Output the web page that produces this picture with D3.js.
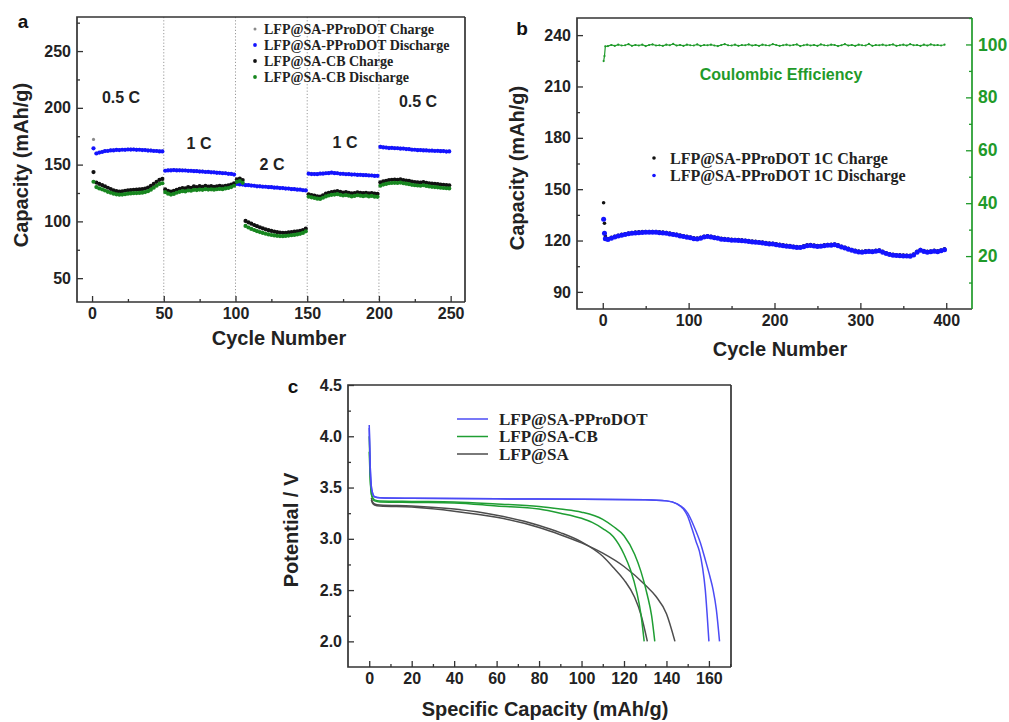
<!DOCTYPE html>
<html>
<head>
<meta charset="utf-8">
<script src="https://cdn.jsdelivr.net/npm/d3@7"></script>
<style>
  body { margin: 0; background: #fff; }
  svg { display: block; }
</style>
</head>
<body>
<svg id="fig" width="1009" height="722"></svg>
<script>
// ---------------- Panel a: rate capability (every second cycle) ----------------
const cyclesA = d3.range(1, 250, 2);
const rateLabels = ["0.5 C", "1 C", "2 C", "1 C", "0.5 C"];
const rateBounds = [50, 100, 150, 200];

const pprodotCharge = [
  172.2, 160.2, 160.9, 161.6, 162.2, 162.5, 162.8, 163.0, 163.2, 163.3, 163.4, 163.5, 163.6, 163.7, 163.6, 163.5, 163.4, 163.3, 163.1, 162.9, 162.7, 162.5, 162.3, 162.1, 161.9,
  145.0, 145.2, 145.4, 145.5, 145.4, 145.3, 145.3, 145.1, 145.0, 144.8, 144.7, 144.5, 144.4, 144.2, 144.0, 143.9, 143.7, 143.5, 143.3, 143.1, 142.9, 142.7, 142.4, 142.1, 141.6,
  133.4, 133.0, 132.7, 132.4, 132.2, 132.0, 131.7, 131.4, 131.2, 131.0, 130.8, 130.6, 130.4, 130.2, 130.0, 129.8, 129.6, 129.4, 129.2, 128.9, 128.7, 128.4, 128.2, 127.9, 127.6,
  142.4, 142.2, 142.0, 142.1, 142.3, 142.5, 142.7, 143.0, 143.2, 143.0, 142.7, 142.4, 142.2, 142.0, 141.9, 141.7, 141.6, 141.4, 141.3, 141.2, 141.0, 140.9, 140.7, 140.5, 140.4,
  166.0, 165.6, 165.3, 165.1, 165.0, 164.9, 164.7, 164.5, 164.4, 164.2, 163.9, 163.6, 163.4, 163.2, 163.1, 163.0, 162.8, 162.7, 162.6, 162.5, 162.4, 162.3, 162.2, 162.0, 161.9
];
const pprodotDischarge = [
  164.3, 159.8, 160.6, 161.1, 161.9, 162.0, 162.5, 162.5, 162.9, 162.8, 163.1, 163.0, 163.3, 163.2, 163.3, 163.0, 163.1, 162.8, 162.8, 162.4, 162.4, 162.0, 162.0, 161.6, 161.6,
  144.6, 144.9, 144.9, 145.2, 144.9, 145.0, 144.8, 144.8, 144.5, 144.5, 144.2, 144.2, 143.9, 143.9, 143.5, 143.6, 143.2, 143.2, 142.8, 142.8, 142.4, 142.4, 141.9, 141.8, 141.2,
  133.0, 132.5, 132.4, 131.9, 131.9, 131.5, 131.4, 130.9, 130.9, 130.5, 130.5, 130.1, 130.1, 129.7, 129.7, 129.3, 129.3, 128.9, 128.9, 128.4, 128.4, 127.9, 127.9, 127.4, 127.3,
  142.0, 141.7, 141.7, 141.6, 142.0, 142.0, 142.4, 142.5, 142.9, 142.5, 142.4, 141.9, 141.9, 141.5, 141.6, 141.2, 141.3, 140.9, 141.0, 140.7, 140.7, 140.4, 140.4, 140.0, 140.1,
  165.6, 165.1, 165.0, 164.6, 164.7, 164.4, 164.4, 164.0, 164.1, 163.7, 163.6, 163.1, 163.1, 162.7, 162.8, 162.5, 162.5, 162.2, 162.3, 162.0, 162.1, 161.8, 161.9, 161.5, 161.6
];
const cbCharge = [
  143.4, 134.2, 133.0, 132.0, 130.8, 129.6, 128.5, 127.4, 126.6, 126.2, 126.5, 127.0, 127.3, 127.6, 127.8, 127.9, 128.2, 128.4, 128.9, 129.8, 131.2, 133.0, 134.8, 136.6, 137.4,
  128.2, 127.0, 126.2, 126.8, 127.8, 128.6, 129.4, 129.0, 130.2, 129.6, 130.8, 130.2, 131.0, 130.4, 131.2, 130.6, 131.0, 130.4, 130.8, 131.2, 130.8, 131.4, 131.8, 132.4, 133.6,
  137.0, 137.6, 136.4, 100.4, 99.2, 98.0, 96.8, 95.8, 94.8, 93.9, 93.0, 92.3, 91.6, 91.0, 90.5, 90.1, 89.9, 90.0, 90.3, 90.6, 90.9, 91.2, 91.6, 92.4, 93.6,
  123.8, 123.2, 122.6, 122.0, 121.8, 123.0, 124.4, 125.2, 125.8, 126.2, 126.6, 126.0, 125.4, 125.8, 125.2, 124.6, 125.0, 125.6, 125.2, 124.8, 125.2, 124.6, 125.0, 124.4, 124.2,
  134.4, 135.2, 135.8, 136.4, 136.6, 136.8, 136.6, 137.0, 136.4, 136.0, 135.6, 135.0, 134.6, 134.4, 134.2, 134.6, 134.0, 133.6, 133.2, 133.0, 132.8, 132.4, 132.2, 132.0, 131.8
];
const cbDischarge = [
  134.9, 130.2, 129.0, 128.2, 127.2, 126.0, 125.2, 124.4, 123.8, 123.5, 123.6, 124.0, 124.4, 124.6, 124.8, 124.9, 125.1, 125.3, 125.8, 126.6, 127.9, 129.6, 131.4, 133.0, 133.6,
  125.8, 124.4, 123.6, 124.2, 125.2, 126.0, 126.6, 126.4, 127.2, 127.0, 127.8, 127.6, 128.0, 127.8, 128.4, 128.0, 128.2, 127.9, 128.3, 128.6, 128.4, 129.0, 129.4, 130.2, 131.4,
  134.8, 135.4, 134.0, 96.0, 94.6, 93.4, 92.4, 91.4, 90.6, 89.8, 89.1, 88.5, 88.0, 87.6, 87.3, 87.1, 87.0, 87.2, 87.5, 87.8, 88.1, 88.5, 89.0, 89.8, 91.2,
  121.8, 121.2, 120.6, 120.0, 119.8, 120.8, 122.0, 122.8, 123.4, 123.6, 124.0, 123.4, 122.8, 123.2, 122.6, 122.0, 122.4, 123.0, 122.6, 122.2, 122.6, 122.0, 122.4, 121.8, 121.6,
  131.4, 132.4, 133.0, 133.6, 133.8, 134.0, 133.8, 134.2, 133.6, 133.2, 132.8, 132.2, 131.8, 131.6, 131.4, 131.8, 131.2, 130.8, 130.4, 130.2, 130.0, 129.6, 129.4, 129.2, 129.0
];
const legendA = ["LFP@SA-PProDOT Charge", "LFP@SA-PProDOT Discharge", "LFP@SA-CB Charge", "LFP@SA-CB Discharge"];

// ---------------- Panel b: 1C cycling (first three cycles, then every fourth) ----------------
const cyclesB = [1, 2, 3].concat(d3.range(6, 399, 4));
const longCharge = [
  142.1, 130.1, 122.6,
  121.1, 121.9, 122.5, 123.1, 123.6, 124.0, 124.4, 124.7, 124.9, 125.1,
  125.2, 125.3, 125.3, 125.3, 125.3, 125.1, 124.9, 124.7, 124.3, 124.0,
  123.7, 123.2, 122.8, 122.4, 122.1, 121.6, 121.4, 121.9, 122.5, 122.8,
  122.5, 122.1, 121.8, 121.3, 121.1, 120.9, 120.7, 120.6, 120.5, 120.4,
  120.2, 120.0, 119.7, 119.5, 119.3, 119.1, 118.8, 118.5, 118.4, 118.1,
  117.8, 117.5, 117.2, 117.0, 116.7, 116.5, 116.4, 116.9, 117.5, 117.6,
  117.3, 117.0, 117.1, 117.5, 117.7, 117.8, 118.0, 117.5, 116.7, 116.1,
  115.4, 114.8, 114.3, 113.8, 113.7, 114.0, 114.1, 113.9, 114.3, 114.5,
  113.7, 112.9, 112.3, 111.9, 111.7, 111.6, 111.5, 111.4, 111.3, 112.1,
  113.7, 114.8, 114.1, 113.7, 113.9, 114.3, 114.0, 114.5, 115.1
];
const longDischarge = [
  132.4, 124.2, 121.0,
  120.6, 121.4, 122.0, 122.6, 123.1, 123.5, 123.9, 124.2, 124.4, 124.6,
  124.7, 124.8, 124.8, 124.8, 124.8, 124.6, 124.4, 124.2, 123.8, 123.5,
  123.2, 122.7, 122.3, 121.9, 121.6, 121.1, 120.9, 121.4, 122.0, 122.3,
  122.0, 121.6, 121.3, 120.8, 120.6, 120.4, 120.2, 120.1, 120.0, 119.9,
  119.7, 119.5, 119.2, 119.0, 118.8, 118.6, 118.3, 118.0, 117.9, 117.6,
  117.3, 117.0, 116.7, 116.5, 116.2, 116.0, 115.9, 116.4, 117.0, 117.1,
  116.8, 116.5, 116.6, 117.0, 117.2, 117.3, 117.5, 117.0, 116.2, 115.6,
  114.9, 114.3, 113.8, 113.3, 113.2, 113.5, 113.6, 113.4, 113.8, 114.0,
  113.2, 112.4, 111.8, 111.4, 111.2, 111.1, 111.0, 110.9, 110.8, 111.6,
  113.2, 114.3, 113.6, 113.2, 113.4, 113.8, 113.5, 114.0, 114.6
];
const coulombicEff = [
  93.7, 95.6, 99.3,
  99.4, 99.8, 99.5, 99.9, 99.6, 99.7, 100.1, 99.5, 99.8, 99.6,
  99.9, 99.4, 99.8, 100.0, 99.6, 99.7, 99.5, 99.9, 99.7, 100.2,
  99.6, 99.8, 99.5, 99.9, 99.7, 99.6, 100.0, 99.5, 99.8, 99.7,
  99.9, 99.6, 99.4, 99.8, 100.1, 99.7, 99.6, 99.9, 99.5, 99.8,
  99.7, 100.0, 99.6, 99.8, 99.5, 99.9, 99.7, 99.6, 100.1, 99.8,
  99.5, 99.7, 99.9, 99.6, 99.8, 100.0, 99.4, 99.7, 99.9, 99.6,
  99.8, 99.5, 100.0, 99.7, 99.6, 99.9, 99.8, 99.4, 99.7, 100.1,
  99.6, 99.8, 99.5, 99.9, 99.7, 99.6, 100.2, 99.5, 99.8, 99.7,
  99.9, 99.6, 99.8, 100.0, 99.5, 99.7, 99.9, 99.6, 100.1, 99.7,
  99.8, 99.5, 99.9, 99.6, 100.0, 99.7, 99.8, 99.6, 99.9
];
const legendB = ["LFP@SA-PProDOT 1C Charge", "LFP@SA-PProDOT 1C Discharge"];

// ---------------- Panel c: discharge profiles (two cells per electrode) ----------------
const profileNames = ["LFP@SA-PProDOT", "LFP@SA-CB", "LFP@SA"];
const pprodotCap1 = [0, 0.4, 1.2, 2.5, 5, 20, 60, 100, 130, 140, 145, 148, 150, 152, 154, 155.5, 157, 158.3, 159.2, 160];
const pprodotV1   = [4.11, 3.75, 3.48, 3.41, 3.40, 3.395, 3.39, 3.385, 3.38, 3.37, 3.34, 3.29, 3.22, 3.10, 2.97, 2.88, 2.72, 2.50, 2.25, 2.00];
const pprodotCap2 = [0, 0.4, 1.2, 2.5, 5, 20, 60, 100, 130, 140, 145, 148, 150, 153, 156, 158.5, 160.5, 162, 163.5, 165];
const pprodotV2   = [4.08, 3.75, 3.48, 3.41, 3.40, 3.395, 3.39, 3.385, 3.38, 3.37, 3.34, 3.30, 3.25, 3.12, 2.96, 2.78, 2.63, 2.50, 2.31, 2.00];
const cbCap1 = [0, 0.4, 1.2, 2.5, 5, 20, 40, 60, 80, 90, 100, 105, 110, 115, 120, 123, 126, 128, 129.5];
const cbV1   = [4.00, 3.65, 3.42, 3.37, 3.36, 3.355, 3.35, 3.32, 3.29, 3.25, 3.20, 3.16, 3.10, 3.02, 2.85, 2.70, 2.48, 2.26, 2.00];
const cbCap2 = [0, 0.4, 1.2, 2.5, 5, 20, 40, 60, 80, 90, 100, 110, 115, 120, 125, 128, 131, 133, 134.5];
const cbV2   = [3.85, 3.60, 3.42, 3.38, 3.37, 3.365, 3.36, 3.34, 3.315, 3.29, 3.26, 3.19, 3.12, 3.03, 2.85, 2.68, 2.45, 2.25, 2.00];
const saCap1 = [1, 1.5, 2.5, 5, 20, 40, 60, 80, 90, 100, 110, 115, 120, 125, 128, 131];
const saV1   = [3.40, 3.36, 3.34, 3.33, 3.32, 3.29, 3.23, 3.13, 3.06, 2.97, 2.83, 2.72, 2.60, 2.43, 2.26, 2.00];
const saCap2 = [1, 1.5, 2.5, 5, 20, 40, 60, 80, 90, 100, 110, 120, 130, 135, 140, 144];
const saV2   = [3.38, 3.35, 3.33, 3.32, 3.31, 3.27, 3.21, 3.11, 3.04, 2.96, 2.86, 2.73, 2.55, 2.44, 2.27, 2.00];

// ---------------- drawing ----------------
const SANS = '"Liberation Sans", Arial, Helvetica, sans-serif';
const SERIF = '"Liberation Serif", "Times New Roman", Times, serif';
const AXIS = "#333";
const BLUE = "#1414ff", GREEN = "#17861f", BLACK = "#111", GREY = "#8a8a8a";
const CE_GREEN = "#1f9a2a";

const svg = d3.select("#fig");
svg.append("rect").attr("width", 1009).attr("height", 722).attr("fill", "#fff");

function axisGroup(g, scale, orient, pos, values, size, withLabels, fmt, color) {
  const make = { bottom: d3.axisBottom, left: d3.axisLeft, right: d3.axisRight }[orient];
  const ax = make(scale).tickValues(values).tickSizeInner(-size).tickSizeOuter(0)
    .tickPadding(withLabels ? 6 : 0);
  ax.tickFormat(withLabels ? (fmt || d3.format("d")) : () => "");
  const tr = orient === "bottom" ? `translate(0,${pos})` : `translate(${pos},0)`;
  const a = g.append("g").attr("transform", tr).call(ax);
  a.select(".domain").remove();
  a.selectAll(".tick line").attr("stroke", color || AXIS).attr("stroke-width", 1.3);
  a.selectAll(".tick text").attr("fill", color || "#222")
    .attr("font-family", SANS).attr("font-size", 16).attr("font-weight", "bold");
  return a;
}

function box(g, b, rightColor) {
  g.append("path").attr("fill", "none").attr("stroke", AXIS).attr("stroke-width", 1.7)
    .attr("d", `M${b.r},${b.t}H${b.l}V${b.b}H${b.r}`);
  g.append("line").attr("x1", b.r).attr("x2", b.r).attr("y1", b.t).attr("y2", b.b)
    .attr("stroke", rightColor || AXIS).attr("stroke-width", 1.7);
}

function title(g, txt, x, y, rotate, size) {
  const t = g.append("text").text(txt).attr("font-family", SANS).attr("font-weight", "bold")
    .attr("font-size", size || 20).attr("fill", "#222").attr("text-anchor", "middle");
  if (rotate) t.attr("transform", `translate(${x},${y}) rotate(-90)`).attr("dy", "0.36em");
  else t.attr("x", x).attr("y", y);
  return t;
}

function letter(g, txt, x, y) {
  g.append("text").text(txt).attr("x", x).attr("y", y).attr("font-family", SANS)
    .attr("font-weight", "bold").attr("font-size", 19).attr("fill", "#111").attr("text-anchor", "middle");
}

// ----- panel a -----
{
  const b = { l: 77, r: 465, t: 17, b: 302 };
  const g = svg.append("g");
  const x = d3.scaleLinear().domain([-10.5, 260]).range([b.l, b.r]);
  const y = d3.scaleLinear().domain([29, 280]).range([b.b, b.t]);

  // rate-change separators
  g.selectAll("line.sep").data(rateBounds).join("line")
    .attr("x1", d => x(d)).attr("x2", d => x(d)).attr("y1", b.t).attr("y2", b.b)
    .attr("stroke", "#9a9a9a").attr("stroke-width", 1).attr("stroke-dasharray", "1.2,2");

  const series = [
    { v: pprodotCharge, c: GREY, r: 1.6 },
    { v: pprodotDischarge, c: BLUE, r: 2.1 },
    { v: cbCharge, c: BLACK, r: 2.1 },
    { v: cbDischarge, c: GREEN, r: 2.1 }
  ];
  series.forEach(s => {
    g.append("g").selectAll("circle").data(cyclesA.map((c, i) => [c, s.v[i]])).join("circle")
      .attr("cx", d => x(d[0])).attr("cy", d => y(d[1])).attr("r", s.r).attr("fill", s.c);
  });

  box(g, b);
  axisGroup(g, x, "bottom", b.b, d3.range(0, 251, 50), 6, true);
  axisGroup(g, x, "bottom", b.b, d3.range(25, 251, 50), 3, false);
  axisGroup(g, y, "left", b.l, d3.range(50, 251, 50), 6, true);
  axisGroup(g, y, "left", b.l, d3.range(75, 280, 50), 3, false);

  // rate labels
  const labelPos = [[121, 103], [199, 149], [272, 170], [345, 148], [418, 107]];
  g.selectAll("text.rate").data(rateLabels).join("text")
    .attr("x", (d, i) => labelPos[i][0]).attr("y", (d, i) => labelPos[i][1])
    .attr("text-anchor", "middle").attr("font-family", SANS).attr("font-weight", "bold")
    .attr("font-size", 16).attr("fill", "#222").text(d => d);

  // legend
  const lc = [GREY, BLUE, BLACK, GREEN];
  const lg = g.append("g");
  legendA.forEach((name, i) => {
    const yy = 29 + i * 16;
    lg.append("circle").attr("cx", 255).attr("cy", yy).attr("r", i === 0 ? 1.5 : 1.9).attr("fill", lc[i]);
    lg.append("text").attr("x", 264).attr("y", yy).attr("dy", "0.35em").text(name)
      .attr("font-family", SERIF).attr("font-weight", "bold").attr("font-size", 14).attr("fill", "#222");
  });

  title(g, "Cycle Number", 279, 345);
  title(g, "Capacity (mAh/g)", 21, 165, true);
  letter(g, "a", 23, 28);
}

// ----- panel b -----
{
  const b = { l: 577, r: 972, t: 18, b: 309 };
  const g = svg.append("g");
  const x = d3.scaleLinear().domain([-30, 430]).range([b.l, b.r]);
  const y = d3.scaleLinear().domain([80, 250]).range([b.b, b.t]);
  const y2 = d3.scaleLinear().domain([0, 110]).range([b.b, b.t]);

  // coulombic efficiency trace
  const ce = cyclesB.map((c, i) => [c, coulombicEff[i]]);
  g.append("path").datum(ce).attr("fill", "none").attr("stroke", CE_GREEN).attr("stroke-width", 1.2)
    .attr("d", d3.line().x(d => x(d[0])).y(d => y2(d[1])));
  g.append("g").selectAll("circle").data(ce).join("circle")
    .attr("cx", d => x(d[0])).attr("cy", d => y2(d[1])).attr("r", 1.1).attr("fill", CE_GREEN);

  g.append("g").selectAll("circle").data(cyclesB.map((c, i) => [c, longCharge[i]])).join("circle")
    .attr("cx", d => x(d[0])).attr("cy", d => y(d[1])).attr("r", 1.8).attr("fill", BLACK);
  g.append("g").selectAll("circle").data(cyclesB.map((c, i) => [c, longDischarge[i]])).join("circle")
    .attr("cx", d => x(d[0])).attr("cy", d => y(d[1])).attr("r", 2.5).attr("fill", BLUE);

  box(g, b, CE_GREEN);
  axisGroup(g, x, "bottom", b.b, d3.range(0, 401, 100), 6, true);
  axisGroup(g, x, "bottom", b.b, d3.range(50, 401, 100), 3, false);
  axisGroup(g, y, "left", b.l, d3.range(90, 241, 30), 6, true);
  axisGroup(g, y, "left", b.l, d3.range(105, 250, 30), 3, false);
  const ra = axisGroup(g, y2, "right", b.r, d3.range(20, 101, 20), 6, true, null, CE_GREEN);
  ra.selectAll(".tick text").attr("font-size", 17.5);
  axisGroup(g, y2, "right", b.r, d3.range(10, 111, 20), 3, false, null, CE_GREEN);

  g.append("text").text("Coulombic Efficiency").attr("x", 781).attr("y", 80)
    .attr("text-anchor", "middle").attr("font-family", SANS).attr("font-weight", "bold")
    .attr("font-size", 16).attr("fill", CE_GREEN);

  const lg = g.append("g");
  legendB.forEach((name, i) => {
    const yy = 158 + i * 17.5;
    lg.append("circle").attr("cx", 654).attr("cy", yy).attr("r", 1.8).attr("fill", i ? BLUE : BLACK);
    lg.append("text").attr("x", 670).attr("y", yy).attr("dy", "0.35em").text(name)
      .attr("font-family", SERIF).attr("font-weight", "bold").attr("font-size", 16).attr("fill", "#222");
  });

  title(g, "Cycle Number", 780, 356);
  title(g, "Capacity (mAh/g)", 517, 168, true);
  letter(g, "b", 522, 35);
}

// ----- panel c -----
{
  const b = { l: 348, r: 731, t: 385, b: 667 };
  const g = svg.append("g");
  const x = d3.scaleLinear().domain([-10, 170.4]).range([b.l, b.r]);
  const y = d3.scaleLinear().domain([1.75, 4.5]).range([b.b, b.t]);
  const line = d3.line().x(d => x(d[0])).y(d => y(d[1])).curve(d3.curveMonotoneX);
  const zip = (a, v) => a.map((c, i) => [c, v[i]]);

  const LBLUE = "#4b4bf5", LGREEN = "#1f9e33", LGREY = "#4d4d4d";
  const curves = [
    { d: zip(saCap1, saV1), c: LGREY }, { d: zip(saCap2, saV2), c: LGREY },
    { d: zip(cbCap1, cbV1), c: LGREEN }, { d: zip(cbCap2, cbV2), c: LGREEN },
    { d: zip(pprodotCap1, pprodotV1), c: LBLUE }, { d: zip(pprodotCap2, pprodotV2), c: LBLUE }
  ];
  curves.forEach(cv => g.append("path").datum(cv.d).attr("fill", "none")
    .attr("stroke", cv.c).attr("stroke-width", 1.5).attr("d", line));

  box(g, b);
  axisGroup(g, x, "bottom", b.b, d3.range(0, 161, 20), 6, true);
  axisGroup(g, x, "bottom", b.b, d3.range(10, 171, 20), 3, false);
  axisGroup(g, y, "left", b.l, [2.0, 2.5, 3.0, 3.5, 4.0, 4.5], 6, true, d3.format(".1f"));
  axisGroup(g, y, "left", b.l, [2.25, 2.75, 3.25, 3.75, 4.25], 3, false);

  const lc = [LBLUE, LGREEN, LGREY];
  const lg = g.append("g");
  profileNames.forEach((name, i) => {
    const yy = 419 + i * 17.5;
    lg.append("line").attr("x1", 457).attr("x2", 488).attr("y1", yy).attr("y2", yy)
      .attr("stroke", lc[i]).attr("stroke-width", 1.5);
    lg.append("text").attr("x", 499).attr("y", yy).attr("dy", "0.35em").text(name)
      .attr("font-family", SERIF).attr("font-weight", "bold").attr("font-size", 17).attr("fill", "#222");
  });

  title(g, "Specific Capacity (mAh/g)", 545, 716);
  title(g, "Potential / V", 291, 530, true);
  letter(g, "c", 293, 393);
}
</script>
</body>
</html>
